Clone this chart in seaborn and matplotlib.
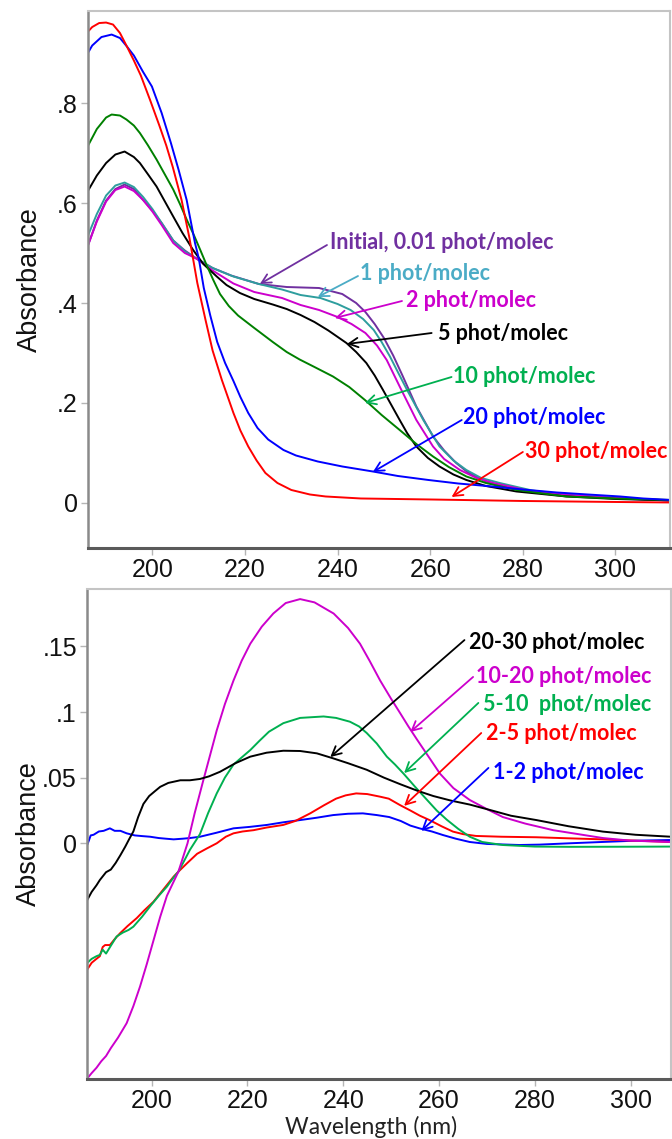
import matplotlib
matplotlib.use("Agg")
import matplotlib.pyplot as plt
import pandas as pd
import seaborn as sns

# ---------------- top panel: spectra after increasing photon doses ----------------
wl_initial = [186, 188, 190, 192, 194, 196, 198, 200, 202, 204.5, 207, 209.5, 213, 217, 223, 229,
              236, 241, 244, 246, 248, 250, 252, 254, 257, 260.6, 263, 265.6, 268, 272, 277, 282,
              290, 300, 312]
abs_initial = [0.513, 0.565, 0.605, 0.628, 0.637, 0.628, 0.606, 0.585, 0.56, 0.525, 0.505, 0.489,
               0.47, 0.455, 0.438, 0.432, 0.43, 0.418, 0.40, 0.382, 0.358, 0.33, 0.295, 0.255,
               0.193, 0.133, 0.105, 0.08, 0.062, 0.043, 0.031, 0.023, 0.015, 0.009, 0.005]

wl_1 = [186, 188, 190, 192, 194, 196, 198, 200, 202, 204.5, 207, 209.5, 213, 217.5, 223, 228, 232,
        236.3, 240, 242.8, 245.5, 247.8, 249.5, 251.3, 253, 255, 258.5, 262, 265, 267.8, 271, 275,
        282, 290, 300, 312]
abs_1 = [0.533, 0.578, 0.615, 0.635, 0.641, 0.632, 0.612, 0.588, 0.56, 0.525, 0.503, 0.489, 0.47,
         0.453, 0.438, 0.427, 0.416, 0.41, 0.398, 0.386, 0.368, 0.346, 0.322, 0.293, 0.262, 0.226,
         0.166, 0.113, 0.085, 0.066, 0.05, 0.04, 0.025, 0.016, 0.01, 0.005]

wl_2 = [186, 188, 190, 192, 194, 196, 198, 200, 202, 204.5, 207, 209.5, 213, 217.5, 222, 228, 232,
        236, 240, 243, 246, 248.5, 250.6, 253.4, 257, 260.6, 263, 266.4, 270, 273.6, 282, 290, 297,
        305, 312]
abs_2 = [0.513, 0.563, 0.603, 0.626, 0.633, 0.624, 0.606, 0.583, 0.556, 0.52, 0.5, 0.489, 0.465,
         0.439, 0.422, 0.41, 0.396, 0.386, 0.372, 0.358, 0.34, 0.315, 0.286, 0.233, 0.166, 0.113,
         0.088, 0.066, 0.05, 0.04, 0.023, 0.016, 0.012, 0.008, 0.005]

wl_5 = [186, 188, 190, 192, 194, 196, 197.3, 199, 200.9, 203, 204.5, 206.5, 208.8, 211, 213.9, 216,
        218.9, 222, 226, 229, 232, 235, 238, 241.9, 244, 246.2, 248, 249.8, 251.6, 253.4, 255, 257,
        259.5, 262, 265, 267.8, 272, 278.6, 289.4, 300, 312]
abs_5 = [0.623, 0.655, 0.68, 0.697, 0.703, 0.692, 0.68, 0.658, 0.633, 0.598, 0.573, 0.54, 0.506,
         0.478, 0.453, 0.436, 0.42, 0.408, 0.397, 0.388, 0.376, 0.362, 0.345, 0.32, 0.302, 0.28,
         0.255, 0.226, 0.196, 0.166, 0.14, 0.113, 0.09, 0.073, 0.057, 0.046, 0.034, 0.023, 0.013,
         0.008, 0.005]

wl_10 = [186, 188, 190, 191.2, 193, 194.4, 196, 197.3, 199, 200.9, 202.7, 204.5, 206, 207.4, 209,
         210.3, 211.7, 213.1, 214.6, 216.5, 218.5, 222, 226, 229, 231.8, 235, 239, 242.5, 245.9,
         249.5, 253.4, 257, 260.6, 264, 267.8, 272, 278.6, 289.4, 300, 312]
abs_10 = [0.713, 0.748, 0.771, 0.777, 0.775, 0.767, 0.755, 0.74, 0.716, 0.687, 0.657, 0.627, 0.597,
          0.567, 0.535, 0.507, 0.476, 0.447, 0.418, 0.394, 0.375, 0.35, 0.322, 0.302, 0.287, 0.272,
          0.253, 0.232, 0.206, 0.176, 0.146, 0.118, 0.093, 0.072, 0.053, 0.04, 0.026, 0.013, 0.009,
          0.006]

wl_20 = [186, 187, 189, 191.2, 193, 194.5, 196, 198, 199.9, 202, 204, 205.7, 207.4, 209.2, 210,
         211.1, 212.5, 214, 215.7, 217.5, 219, 220.7, 222.7, 225, 228.3, 231, 235.7, 241, 247.6,
         253, 259.6, 266, 273.4, 280, 287.3, 294, 301, 306, 312]
abs_20 = [0.899, 0.915, 0.932, 0.937, 0.93, 0.913, 0.895, 0.862, 0.833, 0.78, 0.72, 0.665, 0.606,
          0.52, 0.49, 0.43, 0.375, 0.322, 0.28, 0.244, 0.212, 0.18, 0.15, 0.127, 0.106, 0.095,
          0.083, 0.073, 0.063, 0.054, 0.046, 0.039, 0.033, 0.027, 0.021, 0.017, 0.013, 0.009, 0.006]

wl_30 = [186, 187, 188.5, 190, 191.5, 193, 194.5, 196, 197.5, 199.5, 201.5, 203, 204.4, 206.3, 208,
         209.7, 211.5, 213, 215, 217.5, 219, 220.7, 222.5, 224.4, 227, 230, 234, 237.4, 245, 260,
         280, 300, 312]
abs_30 = [0.942, 0.952, 0.96, 0.961, 0.957, 0.94, 0.913, 0.885, 0.855, 0.806, 0.755, 0.715, 0.672,
          0.606, 0.53, 0.44, 0.365, 0.305, 0.246, 0.18, 0.145, 0.113, 0.085, 0.06, 0.04, 0.026,
          0.017, 0.013, 0.009, 0.007, 0.004, 0.002, 0.001]

top_names = ["Initial", "1", "2", "5", "10", "20", "30"]
top_wl = [wl_initial, wl_1, wl_2, wl_5, wl_10, wl_20, wl_30]
top_abs = [abs_initial, abs_1, abs_2, abs_5, abs_10, abs_20, abs_30]
top_colors = ["#7030A0", "#2E9E9E", "#CC00CC", "#000000", "#008000", "#0000FF", "#FF0000"]

top_labels = ["Initial, 0.01 phot/molec", "1 phot/molec", "2 phot/molec", "5 phot/molec",
              "10 phot/molec", "20 phot/molec", "30 phot/molec"]
top_label_colors = ["#7030A0", "#4BACC6", "#CC00CC", "#000000", "#00B050", "#0000FF", "#FF0000"]

# ---------------- bottom panel: difference spectra between doses ----------------
wl_d12 = [186.6, 187.3, 187.9, 189, 190, 191.3, 192.3, 193.5, 194.8, 196.5, 198, 199.7, 201.5, 203,
          204.6, 206.5, 208, 210.1, 213.5, 217.1, 220.5, 224.1, 227.5, 231, 234.5, 237.9, 241,
          244.1, 247, 249.6, 252, 254, 255.9, 258.5, 260.8, 263.5, 266.4, 270, 276.8, 281, 287.2,
          294, 301, 308.4]
abs_d12 = [-0.001, 0.006, 0.0065, 0.009, 0.0095, 0.0114, 0.0095, 0.0095, 0.0076, 0.006, 0.0055,
           0.005, 0.004, 0.0035, 0.003, 0.0035, 0.004, 0.005, 0.008, 0.0114, 0.0125, 0.014, 0.016,
           0.0177, 0.0195, 0.0215, 0.0225, 0.0228, 0.0215, 0.020, 0.017, 0.0135, 0.0114, 0.009,
           0.0063, 0.0035, 0.001, -0.0005, -0.0013, -0.001, 0.0, 0.001, 0.002, 0.0025]

wl_d25 = [186.6, 187.5, 188.5, 189.2, 189.8, 190.3, 191.3, 192.3, 193.4, 195, 196.9, 198.5, 200.4,
          202.5, 204.6, 205.6, 207.4, 209.5, 211.5, 213.6, 215.5, 217.1, 219, 221.3, 224, 227.5,
          230, 233.1, 236, 238.5, 240.5, 242.7, 245, 247.7, 249.5, 251.9, 254, 256, 258, 260.5,
          262.9, 265, 267.7, 273, 280.3, 287, 294.2, 301, 308.4]
abs_d25 = [-0.096, -0.091, -0.088, -0.086, -0.079, -0.0775, -0.0775, -0.073, -0.0686, -0.063,
           -0.057, -0.051, -0.0445, -0.035, -0.0254, -0.0216, -0.0152, -0.008, -0.004, 0.0, 0.005,
           0.0076, 0.009, 0.010, 0.012, 0.014, 0.017, 0.0228, 0.029, 0.034, 0.0365, 0.038, 0.0375,
           0.0355, 0.034, 0.029, 0.025, 0.021, 0.0177, 0.013, 0.0089, 0.007, 0.0056, 0.005, 0.0046,
           0.0038, 0.003, 0.002, 0.001]

wl_d510 = [186.6, 187.5, 188.5, 189.2, 189.8, 190.5, 191.5, 192.7, 194, 195.2, 196.2, 198, 199.7,
           201.5, 203.2, 204.6, 205.6, 207, 208, 210.1, 211.8, 213.6, 215.3, 217.1, 219, 220.6,
           222.5, 224.5, 227.5, 231, 235.9, 238.5, 241.4, 243.3, 244.9, 247, 249.1, 250.8, 252.6,
           255, 257.5, 259.5, 261.6, 264, 266.4, 269, 273.3, 280, 287.2, 300, 308.4]
abs_d510 = [-0.091, -0.088, -0.086, -0.085, -0.081, -0.084, -0.078, -0.071, -0.068, -0.066,
            -0.0635, -0.056, -0.048, -0.04, -0.033, -0.026, -0.0216, -0.012, -0.005, 0.007, 0.023,
            0.038, 0.05, 0.060, 0.066, 0.071, 0.078, 0.085, 0.0915, 0.0955, 0.0966, 0.0955, 0.0926,
            0.089, 0.084, 0.076, 0.066, 0.06, 0.053, 0.043, 0.033, 0.025, 0.018, 0.011, 0.005, 0.001,
            -0.0013, -0.0025, -0.0027, -0.0026, -0.0025]

wl_d1020 = [186.6, 187.5, 188.5, 189.5, 190.5, 191.5, 193, 194.8, 196.2, 197.6, 199, 200.4, 201.8,
            203.2, 204.5, 205.6, 207.5, 209, 210.8, 212.2, 213.6, 215.3, 217.1, 218.8, 220.6, 223,
            225.4, 228, 231, 234, 238, 241, 243.5, 245.5, 247.7, 250, 251.9, 253.6, 255.4, 257.8,
            260.2, 263, 266.4, 270, 273.3, 278, 283.8, 289, 294.2, 300, 308.4]
abs_d1020 = [-0.179, -0.175, -0.171, -0.166, -0.162, -0.156, -0.148, -0.137, -0.124, -0.109,
             -0.092, -0.074, -0.056, -0.04, -0.03, -0.0216, 0.0, 0.023, 0.048, 0.067, 0.086, 0.106,
             0.124, 0.139, 0.152, 0.165, 0.175, 0.183, 0.186, 0.1835, 0.175, 0.164, 0.152, 0.139,
             0.124, 0.11, 0.099, 0.089, 0.079, 0.066, 0.053, 0.042, 0.033, 0.026, 0.02, 0.015,
             0.010, 0.007, 0.004, 0.002, 0.001]

wl_d2030 = [186.6, 187.5, 188.5, 189.2, 190.5, 191.5, 192.5, 193.5, 194.5, 195.3, 196.2, 197.2,
            198.3, 199.5, 200.8, 201.8, 203.5, 206, 208, 210.1, 212, 214.3, 217.5, 220.6, 224,
            227.5, 231, 234.5, 237.9, 241, 244.9, 248.5, 251.9, 255.5, 258.8, 262.5, 266.4, 271,
            275, 280.3, 287, 294.2, 301, 308.4]
abs_d2030 = [-0.043, -0.037, -0.032, -0.028, -0.022, -0.020, -0.015, -0.009, -0.0026, 0.003, 0.009,
             0.02, 0.03, 0.036, 0.040, 0.043, 0.046, 0.048, 0.048, 0.049, 0.051, 0.0545, 0.061,
             0.066, 0.069, 0.0705, 0.0703, 0.0685, 0.0647, 0.061, 0.056, 0.050, 0.045, 0.040, 0.036,
             0.0325, 0.0295, 0.025, 0.021, 0.0177, 0.013, 0.0089, 0.0065, 0.005]

bot_names = ["1-2", "2-5", "5-10", "10-20", "20-30"]
bot_wl = [wl_d12, wl_d25, wl_d510, wl_d1020, wl_d2030]
bot_abs = [abs_d12, abs_d25, abs_d510, abs_d1020, abs_d2030]
bot_colors = ["#0000FF", "#FF0000", "#00B050", "#CC00CC", "#000000"]
bot_labels = ["1-2 phot/molec", "2-5 phot/molec", "5-10  phot/molec", "10-20 phot/molec",
              "20-30 phot/molec"]

# axis ticks
x_ticks = [200, 220, 240, 260, 280, 300]
top_y_ticks = [0, 0.2, 0.4, 0.6, 0.8]
top_y_ticklabels = ["0", ".2", ".4", ".6", ".8"]
bot_y_ticks = [0, 0.05, 0.1, 0.15]
bot_y_ticklabels = ["0", ".05", ".1", ".15"]


def long_frame(names, wls, vals):
    parts = []
    for n, w, a in zip(names, wls, vals):
        parts.append(pd.DataFrame({"wavelength": w, "absorbance": a, "dose": n}))
    return pd.concat(parts, ignore_index=True)


df_top = long_frame(top_names, top_wl, top_abs)
df_bot = long_frame(bot_names, bot_wl, bot_abs)

sns.set_theme(style="white")
plt.rcParams["font.family"] = ["Liberation Sans", "DejaVu Sans"]

fig = plt.figure(figsize=(6.72, 11.39), dpi=100)
ax_top = fig.add_axes([0.131, 0.5189, 0.8655, 0.4714])
ax_bot = fig.add_axes([0.130, 0.0527, 0.8685, 0.4302])

sns.lineplot(data=df_top, x="wavelength", y="absorbance", hue="dose", hue_order=top_names,
             palette=dict(zip(top_names, top_colors)), estimator=None, sort=False,
             legend=False, linewidth=1.4, ax=ax_top)
sns.lineplot(data=df_bot, x="wavelength", y="absorbance", hue="dose", hue_order=bot_names,
             palette=dict(zip(bot_names, bot_colors)), estimator=None, sort=False,
             legend=False, linewidth=1.4, ax=ax_bot)

ax_top.set_xlim(186.1, 311.7)
ax_top.set_ylim(-0.09, 0.984)
ax_bot.set_xlim(186.6, 308.4)
ax_bot.set_ylim(-0.1795, 0.1937)

ax_top.set_yticks(top_y_ticks)
ax_top.set_yticklabels(top_y_ticklabels)
ax_bot.set_yticks(bot_y_ticks)
ax_bot.set_yticklabels(bot_y_ticklabels)
for ax in (ax_top, ax_bot):
    ax.set_xticks(x_ticks)
    ax.set_xticklabels([str(t) for t in x_ticks])
    ax.tick_params(axis="both", direction="out", length=5, width=1, color="#b5b5b5",
                   labelsize=18, pad=2.5, labelcolor="#111111")
    ax.tick_params(axis="both", which="both", bottom=True, left=True, top=False, right=False)
    ax.spines["left"].set_color("#8a8a8a")
    ax.spines["left"].set_linewidth(1.8)
    ax.spines["bottom"].set_color("#5a5a5a")
    ax.spines["bottom"].set_linewidth(2.2)
    ax.spines["top"].set_color("#c4c4c4")
    ax.spines["top"].set_linewidth(1.5)
    ax.spines["right"].set_color("#c4c4c4")
    ax.spines["right"].set_linewidth(1.5)
    ax.set_ylabel("Absorbance", fontsize=19.5, color="#111111")
    ax.yaxis.set_label_coords(-0.078, 0.5)

ax_top.set_xlabel("")
ax_bot.set_xlabel("Wavelength (nm)", fontsize=16.5, family=["Lato", "DejaVu Sans"],
                  color="#222222")
ax_bot.xaxis.set_label_coords(0.486, -0.075)

label_font = dict(family=["Lato", "DejaVu Sans"], fontsize=15.5, fontweight="bold",
                  va="center", ha="left")
arrow_style = "->,head_length=0.55,head_width=0.28"

# annotation placements: (text x, text y, arrow tail x, tail y, arrow tip x, tip y)
top_ann = [
    (238.3, 0.522, 237.7, 0.516, 223.2, 0.438),
    (244.8, 0.460, 244.4, 0.454, 235.7, 0.412),
    (254.7, 0.406, 253.9, 0.404, 239.4, 0.370),
    (261.6, 0.340, 260.3, 0.340, 242.0, 0.318),
    (264.9, 0.252, 264.6, 0.252, 245.9, 0.200),
    (267.0, 0.170, 266.8, 0.166, 247.6, 0.062),
    (280.4, 0.102, 280.0, 0.102, 264.6, 0.012),
]
for (tx, ty, ax0, ay0, ax1, ay1), text, col in zip(top_ann, top_labels, top_label_colors):
    ax_top.annotate("", xy=(ax1, ay1), xytext=(ax0, ay0),
                    arrowprops=dict(arrowstyle=arrow_style, color=col, lw=1.3,
                                    shrinkA=0, shrinkB=0))
    ax_top.text(tx, ty, text, color=col, **label_font)

bot_ann = [
    (271.3, 0.0543, 270.3, 0.0574, 256.3, 0.0094),
    (269.8, 0.0840, 268.8, 0.0840, 252.7, 0.0285),
    (269.2, 0.1054, 268.2, 0.1069, 252.7, 0.0535),
    (267.7, 0.1267, 267.1, 0.1267, 254.0, 0.0848),
    (266.3, 0.1530, 265.3, 0.1548, 237.3, 0.0657),
]
for (tx, ty, ax0, ay0, ax1, ay1), text, col in zip(bot_ann, bot_labels, bot_colors):
    ax_bot.annotate("", xy=(ax1, ay1), xytext=(ax0, ay0),
                    arrowprops=dict(arrowstyle=arrow_style, color=col, lw=1.3,
                                    shrinkA=0, shrinkB=0))
    ax_bot.text(tx, ty, text, color=col, **label_font)

fig.savefig("out.png", dpi=100)
